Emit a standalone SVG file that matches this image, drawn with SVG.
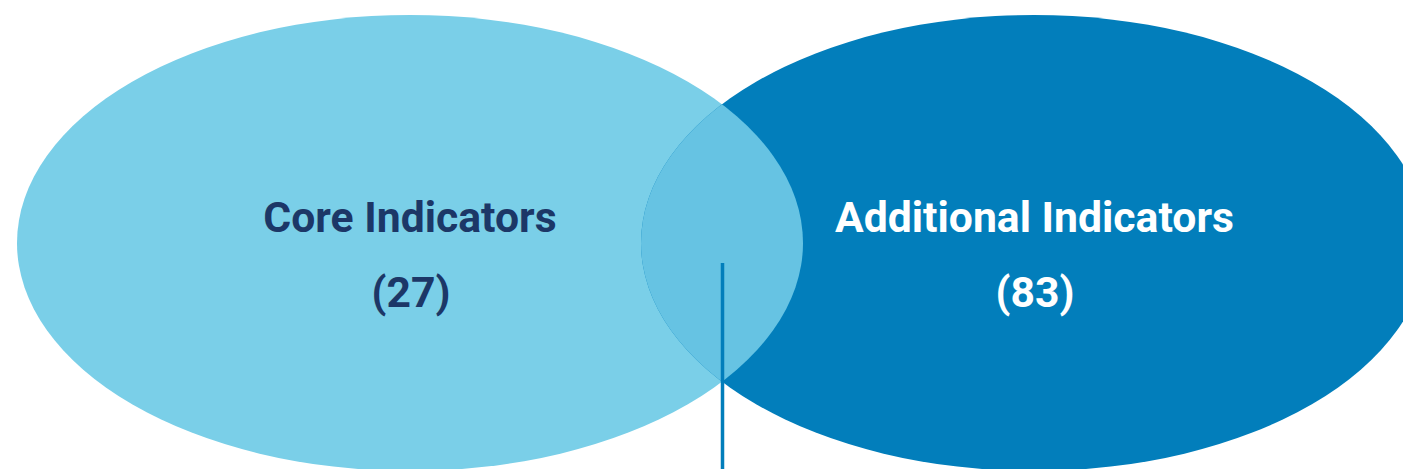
<svg xmlns="http://www.w3.org/2000/svg" width="1403" height="469" viewBox="0 0 1403 469">
  <style>
    .lbl { font-family: Roboto, "Liberation Sans", sans-serif; font-weight: bold; font-size: 42.7px; text-anchor: middle; }
    .dark { fill: #1C3767; }
    .light { fill: #FFFFFF; }
  </style>
  <defs>
    <clipPath id="clipLeft">
      <ellipse cx="410" cy="243" rx="393" ry="228"/>
    </clipPath>
  </defs>
  <rect width="1403" height="469" fill="#FFFFFF"/>
  <g id="core">
    <ellipse cx="410" cy="243" rx="393" ry="228" fill="#7ACFE8"/>
  </g>
  <g id="additional">
    <ellipse cx="1034" cy="243" rx="393" ry="228" fill="#027EBB"/>
  </g>
  <g id="overlap">
    <ellipse cx="1034" cy="243" rx="393" ry="228" fill="#66C3E3" clip-path="url(#clipLeft)"/>
  </g>
  <g id="connectors">
    <line x1="722.5" y1="263" x2="722.5" y2="469" stroke="#027EBB" stroke-width="3.5"/>
  </g>
  <g id="core-label">
    <text class="lbl dark" x="410" y="232">Core Indicators</text>
    <text class="lbl dark" x="411" y="307">(27)</text>
  </g>
  <g id="additional-label">
    <text class="lbl light" x="1034.5" y="232">Additional Indicators</text>
    <text class="lbl light" x="1035" y="307">(83)</text>
  </g>
</svg>
